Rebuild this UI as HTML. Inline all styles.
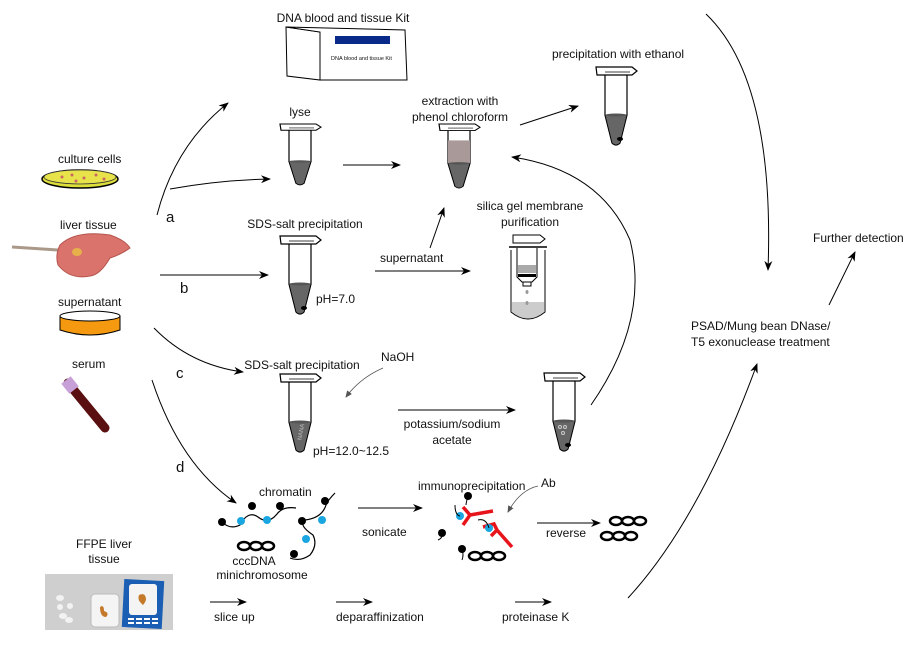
<!DOCTYPE html>
<html><head><meta charset="utf-8"><style>
html,body{margin:0;padding:0;background:#fff}
svg{display:block}
text{font-family:"Liberation Sans",Arial,sans-serif;font-size:12px;fill:#111}
</style></head><body>
<svg width="921" height="647" viewBox="0 0 921 647" xmlns="http://www.w3.org/2000/svg">
<defs>
<marker id="ah" markerWidth="10" markerHeight="8" refX="9" refY="4" orient="auto" markerUnits="userSpaceOnUse">
<path d="M0,0 L10,4 L0,8 L3,4 Z" fill="#000"/></marker>
<marker id="ahg" markerWidth="7" markerHeight="6" refX="6" refY="3" orient="auto" markerUnits="userSpaceOnUse">
<path d="M0,0 L7,3 L0,6 Z" fill="#555"/></marker>
<g id="tube">
<path d="M-11,8 L-11,48 L-4,76 Q0,80 4,76 L11,48 L11,8" fill="#fff" stroke="#000" stroke-width="1.2"/>
<path d="M-20,0 L16,0 L21,4 L16,8 L-19,8 Z" fill="#fff" stroke="#000" stroke-width="1.2"/>
<line x1="-11" y1="5" x2="14" y2="5" stroke="#000" stroke-width="0.8"/>
</g>
<g id="liq">
<path d="M-11,48 L-4,76 Q0,80 4,76 L11,48 Z" fill="#666" stroke="#000" stroke-width="0.8"/>
<ellipse cx="0" cy="48" rx="11" ry="1.5" fill="#555"/>
</g>
<g id="ccc" fill="none" stroke="#000" stroke-width="2.5">
<ellipse cx="0" cy="0" rx="6" ry="4"/><ellipse cx="12" cy="0" rx="6" ry="4"/><ellipse cx="24" cy="0" rx="6" ry="4"/>
</g>
</defs>

<text x="58" y="163">culture cells</text>
<ellipse cx="80" cy="179" rx="38" ry="9" fill="#dede3a" stroke="#000" stroke-width="1.5"/>
<ellipse cx="80" cy="177" rx="36" ry="7" fill="#e8e34a" stroke="#333" stroke-width="0.8"/>
<g fill="#c66"><circle cx="62" cy="177" r="1.5"/><circle cx="72" cy="175" r="1.5"/><circle cx="84" cy="178" r="1.5"/><circle cx="96" cy="175" r="1.5"/><circle cx="104" cy="179" r="1.5"/><circle cx="76" cy="181" r="1.5"/></g>
<text x="60" y="229">liver tissue</text>
<line x1="12" y1="247" x2="58" y2="250" stroke="#a98" stroke-width="3"/>
<path d="M60,245 Q75,230 110,235 Q125,240 130,248 Q120,255 110,258 Q100,275 90,276 Q70,280 58,265 Q55,255 60,245 Z" fill="#d9736b" stroke="#b4544d"/>
<ellipse cx="77" cy="252" rx="5" ry="4" fill="#e7b04a"/>
<text x="58" y="306">supernatant</text>
<path d="M60,316 L60,330 Q90,340 120,330 L120,316 Z" fill="#f59a10" stroke="#000"/>
<ellipse cx="90" cy="316" rx="30" ry="5" fill="#fff" stroke="#000"/>
<text x="72" y="368">serum</text>
<line x1="68" y1="383" x2="105" y2="428" stroke="#5a1010" stroke-width="9" stroke-linecap="round"/>
<line x1="66" y1="380" x2="74" y2="390" stroke="#c8a0d8" stroke-width="12"/>

<path d="M157,215 Q175,145 228,103" fill="none" stroke="#000" marker-end="url(#ah)"/>
<path d="M170,189 Q220,180 270,179" fill="none" stroke="#000" marker-end="url(#ah)"/>
<text x="166" y="222" style="font-size:15px">a</text>
<line x1="160" y1="275" x2="268" y2="275" stroke="#000" marker-end="url(#ah)"/>
<text x="180" y="293" style="font-size:15px">b</text>
<path d="M154,328 Q190,365 243,372" fill="none" stroke="#000" marker-end="url(#ah)"/>
<text x="176" y="378" style="font-size:15px">c</text>
<path d="M152,380 Q180,465 236,503" fill="none" stroke="#000" marker-end="url(#ah)"/>
<text x="176" y="472" style="font-size:15px">d</text>

<text x="343" y="22" text-anchor="middle">DNA blood and tissue Kit</text>
<path d="M286,27 L320,32 L320,80 L287,76 Z" fill="#fff" stroke="#000"/>
<path d="M286,27 L405,30 L407,80 L320,80 L320,32 Z" fill="#fff" stroke="#000"/>
<rect x="335" y="36" width="55" height="8" fill="#0a2a8a"/>
<text x="331" y="60" style="font-size:5.5px">DNA blood and tissue Kit</text>

<text x="300" y="116" text-anchor="middle">lyse</text>
<g transform="translate(300,124) scale(1,0.78)"><use href="#tube"/><use href="#liq"/></g>
<line x1="343" y1="165" x2="400" y2="165" stroke="#000" marker-end="url(#ah)"/>

<text x="460" y="105" text-anchor="middle">extraction with</text>
<text x="460" y="121" text-anchor="middle">phenol chloroform</text>
<g transform="translate(459,124) scale(1,0.82)"><use href="#tube"/>
<rect x="-11" y="20" width="22" height="28" fill="#a99" stroke="none"/><use href="#liq"/></g>
<line x1="520" y1="125" x2="578" y2="106" stroke="#000" marker-end="url(#ah)"/>

<text x="618" y="58" text-anchor="middle">precipitation with ethanol</text>
<g transform="translate(616,67)"><use href="#tube"/><use href="#liq"/><ellipse cx="4" cy="72" rx="3" ry="2" fill="#000"/></g>

<text x="305" y="228" text-anchor="middle">SDS-salt precipitation</text>
<g transform="translate(300,236)"><use href="#tube"/><use href="#liq"/><ellipse cx="4" cy="72" rx="3" ry="2" fill="#000"/></g>
<text x="316" y="303">pH=7.0</text>
<text x="380" y="262">supernatant</text>
<line x1="430" y1="248" x2="444" y2="208" stroke="#000" marker-end="url(#ah)"/>
<line x1="375" y1="271" x2="470" y2="271" stroke="#000" marker-end="url(#ah)"/>

<text x="530" y="210" text-anchor="middle">silica gel membrane</text>
<text x="530" y="226" text-anchor="middle">purification</text>
<path d="M511,250 L511,312 Q528,326 545,312 L545,250" fill="#fff" stroke="#000"/>
<path d="M512,302 L544,302 L544,312 Q528,325 512,312 Z" fill="#ccc"/>
<path d="M513,235 L540,235 L545,239 L540,243 L513,243 Z" fill="#fff" stroke="#000"/>
<line x1="509" y1="247" x2="547" y2="247" stroke="#000" stroke-width="1.5"/>
<path d="M517,248 L517,277 L522,282 L532,282 L537,277 L537,248" fill="none" stroke="#000"/>
<rect x="518" y="265" width="18" height="8" fill="#aaa"/>
<rect x="518" y="274" width="18" height="3" fill="#000"/>
<rect x="523" y="282" width="8" height="4" fill="#fff" stroke="#000"/>
<ellipse cx="527" cy="292" rx="1.5" ry="2" fill="#999"/><ellipse cx="527" cy="303" rx="1.5" ry="2" fill="#999"/>

<text x="302" y="369" text-anchor="middle">SDS-salt precipitation</text>
<g transform="translate(300,374)"><use href="#tube"/><use href="#liq"/></g>
<text x="296" y="440" style="font-size:6px;fill:#bbb" transform="rotate(-80 299 437)">NANA</text>
<text x="313" y="455">pH=12.0~12.5</text>
<text x="381" y="361">NaOH</text>
<path d="M383,368 Q360,378 346,397" fill="none" stroke="#555" stroke-width="0.8" marker-end="url(#ahg)"/>
<line x1="398" y1="410" x2="515" y2="410" stroke="#000" marker-end="url(#ah)"/>
<text x="452" y="428" text-anchor="middle">potassium/sodium</text>
<text x="452" y="444" text-anchor="middle">acetate</text>
<g transform="translate(564,373)"><use href="#tube"/><use href="#liq"/>
<circle cx="-4" cy="54" r="1.5" fill="none" stroke="#ccc"/><circle cx="1" cy="54" r="1.5" fill="none" stroke="#ccc"/><circle cx="-1" cy="60" r="1.5" fill="none" stroke="#ccc"/><ellipse cx="4" cy="72" rx="3" ry="2" fill="#000"/></g>
<path d="M591,405 Q650,320 630,240 Q600,170 512,157" fill="none" stroke="#000" marker-end="url(#ah)"/>

<path d="M706,14 Q775,80 768,270" fill="none" stroke="#000" marker-end="url(#ah)"/>
<text x="691" y="330">PSAD/Mung bean DNase/</text>
<text x="691" y="346">T5 exonuclease  treatment</text>
<text x="813" y="242">Further detection</text>
<line x1="829" y1="305" x2="855" y2="252" stroke="#000" marker-end="url(#ah)"/>
<path d="M628,598 Q700,520 757,364" fill="none" stroke="#000" marker-end="url(#ah)"/>

<text x="259" y="496">chromatin</text>
<g fill="none" stroke="#000" stroke-width="1.2">
<path d="M222,522 Q230,530 240,525 Q248,510 258,517 Q268,525 277,514 Q283,506 296,508"/>
<path d="M335,493 Q328,500 326,505 Q322,518 305,520 Q298,525 313,535 Q318,545 310,555 Q300,562 290,558"/>
</g>
<g fill="#000"><circle cx="222" cy="522" r="4"/><circle cx="252" cy="506" r="4"/><circle cx="280" cy="506" r="4"/><circle cx="325" cy="501" r="4"/><circle cx="302" cy="521" r="4"/><circle cx="294" cy="554" r="4"/></g>
<g fill="#1aa6e0"><circle cx="241" cy="521" r="4"/><circle cx="267" cy="520" r="4"/><circle cx="322" cy="520" r="4"/><circle cx="306" cy="539" r="4"/></g>
<use href="#ccc" transform="translate(244,546)"/>
<text x="254" y="565" text-anchor="middle">cccDNA</text>
<text x="262" y="579" text-anchor="middle">minichromosome</text>

<line x1="358" y1="508" x2="422" y2="508" stroke="#000" marker-end="url(#ah)"/>
<text x="362" y="536">sonicate</text>

<text x="418" y="490">immunoprecipitation</text>
<text x="541" y="487">Ab</text>
<path d="M538,486 Q520,490 508,512" fill="none" stroke="#555" stroke-width="0.8" marker-end="url(#ahg)"/>
<g stroke="#e8141c" stroke-width="3.5" fill="none">
<path d="M463,507 L470,515 L463,525 M470,515 L493,511"/>
<path d="M483,527 L494,524 L497,530 L512,547 M497,530 L491,536"/>
</g>
<g fill="#000"><circle cx="468" cy="496" r="4"/><circle cx="442" cy="533" r="4"/><circle cx="462" cy="549" r="4"/></g>
<g fill="#1aa6e0"><circle cx="460" cy="516" r="4"/><circle cx="489" cy="528" r="4"/></g>
<g fill="none" stroke="#000" stroke-width="1"><path d="M468,496 Q466,503 466,505"/><path d="M455,505 Q455,515 460,516"/><path d="M442,533 Q443,538 438,540"/><path d="M462,549 Q464,555 462,560"/><path d="M478,520 Q486,518 489,528"/></g>
<use href="#ccc" transform="translate(475,556)"/>

<line x1="537" y1="523" x2="600" y2="523" stroke="#000" marker-end="url(#ah)"/>
<text x="546" y="537">reverse</text>
<use href="#ccc" transform="translate(616,521)"/>
<use href="#ccc" transform="translate(607,536)"/>

<text x="104" y="548" text-anchor="middle">FFPE liver</text>
<text x="104" y="563" text-anchor="middle">tissue</text>
<rect x="45" y="574" width="128" height="56" fill="#cfcfcf"/>
<g fill="#f2f2f2"><ellipse cx="60" cy="598" rx="4" ry="3"/><ellipse cx="60" cy="607" rx="3" ry="3"/><ellipse cx="70" cy="606" rx="3" ry="3"/><ellipse cx="63" cy="616" rx="4" ry="3"/><ellipse cx="69" cy="620" rx="4" ry="3"/></g>
<rect x="91" y="594" width="28" height="33" rx="4" fill="#f4f4f4" stroke="#bbb"/>
<path d="M100,607 Q104,604 104,611 Q110,613 106,617 Q100,617 100,607 Z" fill="#c47a2a"/>
<rect x="123" y="580" width="40" height="48" fill="#1a5fb4" transform="rotate(3 143 604)"/>
<rect x="129" y="584" width="28" height="31" rx="3" fill="#f4f4f4"/>
<path d="M139,595 Q146,592 146,600 Q143,607 142,604 Q137,600 139,595 Z" fill="#c47a2a"/>
<g fill="#fff"><rect x="128" y="618" width="6" height="2"/><rect x="136" y="618" width="6" height="2"/><rect x="144" y="618" width="6" height="2"/><rect x="152" y="618" width="6" height="2"/><rect x="128" y="622" width="6" height="2"/><rect x="136" y="622" width="6" height="2"/><rect x="144" y="622" width="6" height="2"/><rect x="152" y="622" width="6" height="2"/></g>

<line x1="210" y1="602" x2="246" y2="602" stroke="#000" marker-end="url(#ah)"/>
<text x="214" y="621">slice up</text>
<line x1="336" y1="602" x2="372" y2="602" stroke="#000" marker-end="url(#ah)"/>
<text x="336" y="621">deparaffinization</text>
<line x1="515" y1="602" x2="551" y2="602" stroke="#000" marker-end="url(#ah)"/>
<text x="502" y="621">proteinase K</text>
</svg>
</body></html>
